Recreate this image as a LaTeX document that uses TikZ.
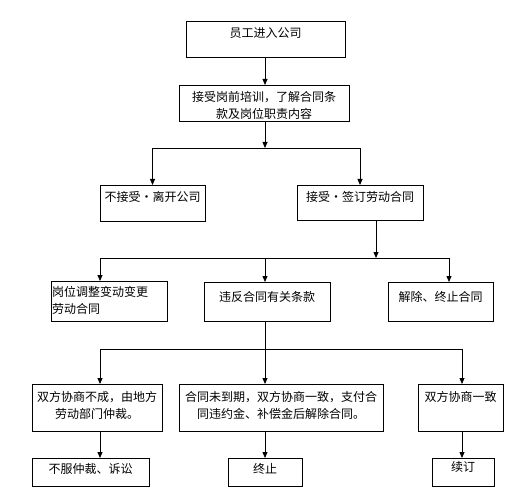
\documentclass[tikz,border=0pt]{standalone}
\usepackage{fontspec}
\newfontfamily\cjk{Noto Sans CJK SC}
\usetikzlibrary{arrows.meta}
\tikzset{
	flowbox/.style={draw, line width=0.8pt, inner sep=0pt, anchor=north, align=center,
		font=\cjk\fontsize{12}{17}\selectfont},
	flowline/.style={line width=0.8pt},
	flowarrow/.style={flowline, -{Triangle[length=6pt,width=5pt]}},
}
\begin{document}
\begin{tikzpicture}[x=1pt, y=-1pt]
	\useasboundingbox (0,0) rectangle (518,502);
	\node[flowbox, minimum width=159pt, text height=16.5pt, text depth=19.5pt] (enter) at (265.5,21) {员工进入公司};
	\node[flowbox, minimum width=170pt, text height=33.5pt, text depth=2.5pt] (train) at (264,85)
		{接受岗前培训，了解合同条\\款及岗位职责内容};
	\node[flowbox, minimum width=105pt, text height=16.5pt, text depth=19.5pt] (leave) at (152.5,185) {不接受・离开公司};
	\node[flowbox, minimum width=126pt, text height=16.5pt, text depth=18.5pt] (sign) at (360,185) {接受・签订劳动合同};

	\node[flowbox, text width=114pt, inner xsep=1pt, align=left, text height=15.5pt, text depth=24.5pt] (change) at (109,281)
		{岗位调整变动变更\\劳动合同};
	\node[flowbox, minimum width=126pt, text height=19.5pt, text depth=19.5pt] (breach) at (267,282) {违反合同有关条款};
	\node[flowbox, minimum width=105pt, text height=19.5pt, text depth=19.5pt] (cancel) at (440.5,282) {解除、终止合同};

	\node[flowbox, minimum width=130pt, text height=34.5pt, text depth=12.5pt] (fail) at (97,384)
		{双方协商不成，由地方\\劳动部门仲裁。};
	\node[flowbox, minimum width=204pt, text height=34.5pt, text depth=12.5pt] (agree) at (281,384)
		{合同未到期，双方协商一致，支付合\\同违约金、补偿金后解除合同。};
	\node[flowbox, minimum width=85pt, text height=17.5pt, text depth=29.5pt] (renew) at (460.5,384) {双方协商一致};

	\node[flowbox, minimum width=117pt, text height=15.5pt, text depth=12.5pt] (sue) at (90.5,458) {不服仲裁、诉讼};
	\node[flowbox, minimum width=74pt, text height=15.5pt, text depth=12.5pt] (stop) at (265,458) {终止};
	\node[flowbox, minimum width=62pt, text height=13.5pt, text depth=14.5pt] (cont) at (463,458) {续订};

	\coordinate (ja) at (265,148);
	\coordinate (jb) at (376,258);
	\coordinate (jc) at (265,349);
	\coordinate (ca) at (100,258);
	\coordinate (cb) at (265,258);
	\coordinate (cc) at (449,258);
	\coordinate (da) at (100,349);
	\coordinate (db) at (265,349);
	\coordinate (dc) at (462,349);

	\draw[flowarrow] (enter.south -| ja) -- (train.north -| ja);
	\draw[flowarrow] (train.south -| ja) -- (ja);
	\draw[flowarrow] (ja) -| (leave.north);
	\draw[flowarrow] (ja) -| (sign.north);

	\draw[flowarrow] (sign.south -| jb) -- (jb);
	\draw[flowline] (ca) -- (cc);
	\draw[flowarrow] (ca) -- (ca |- change.north);
	\draw[flowarrow] (cb) -- (cb |- breach.north);
	\draw[flowarrow] (cc) -- (cc |- cancel.north);

	\draw[flowline] (breach.south -| jc) -- (jc);
	\draw[flowline] (da) -- (dc);
	\draw[flowarrow] (da) -- (da |- fail.north);
	\draw[flowarrow] (db) -- (db |- agree.north);
	\draw[flowarrow] (dc) -- (dc |- renew.north);

	\draw[flowarrow] (da |- fail.south) -- (da |- sue.north);
	\draw[flowarrow] (db |- agree.south) -- (db |- stop.north);
	\draw[flowarrow] (dc |- renew.south) -- (dc |- cont.north);
\end{tikzpicture}
\end{document}
